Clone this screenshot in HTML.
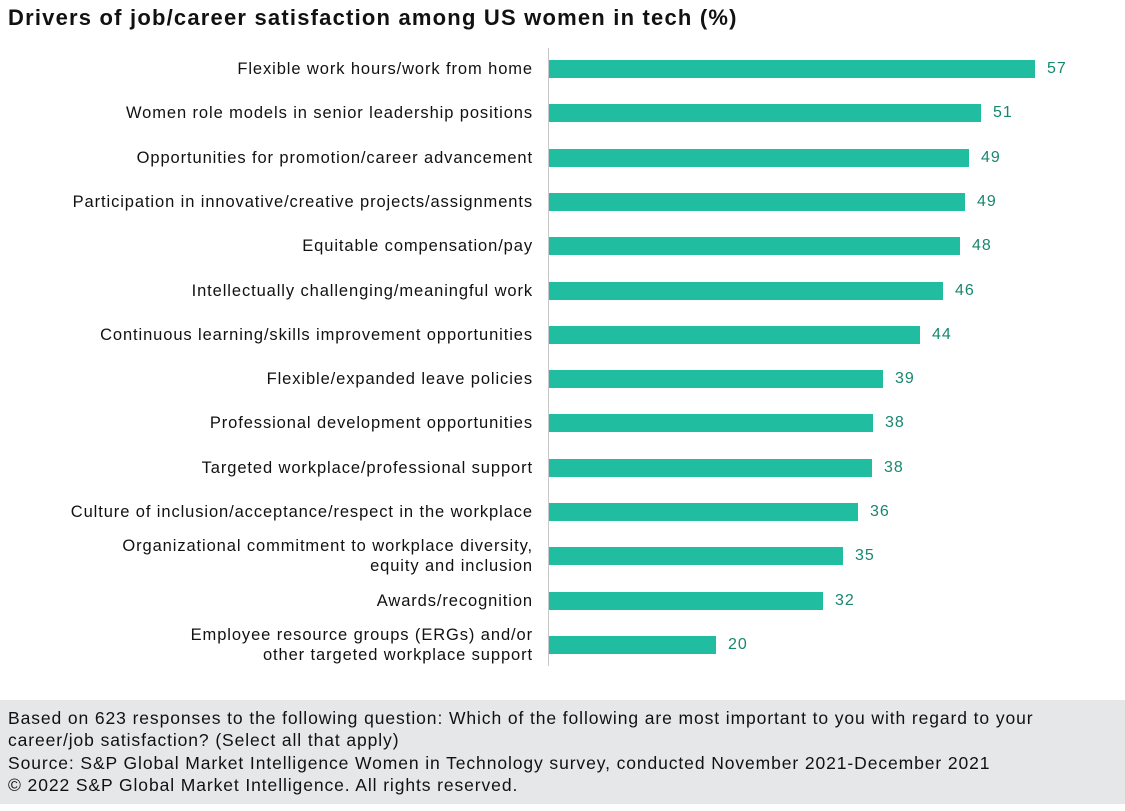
<!DOCTYPE html>
<html><head><meta charset="utf-8"><style>
body{margin:0;width:1125px;height:811px;background:#fff;font-family:"Liberation Sans",sans-serif;position:relative;overflow:hidden;color:#111}
.t{position:absolute;left:8px;top:5px;font-size:22px;font-weight:bold;letter-spacing:1.2px;white-space:nowrap}
.l{position:absolute;right:592px;font-size:16.5px;letter-spacing:0.9px;text-align:right;line-height:20px;white-space:nowrap}
.b{position:absolute;left:549px;height:18px;background:#20bda1}
.v{position:absolute;font-size:16px;letter-spacing:1px;color:#17876f}
.ax{position:absolute;left:548px;top:48px;width:1px;height:618px;background:#c8c8c8}
.f{position:absolute;left:0;top:700px;width:1125px;height:104px;background:#e6e7e8}
.f div{position:absolute;left:8px;top:7px;font-size:17.5px;letter-spacing:0.9px;line-height:22.3px;white-space:nowrap}
</style></head><body>
<div class="t">Drivers of job/career satisfaction among US women in tech (%)</div>
<div class="ax"></div>
<div id="c"></div>
<div class="f"><div>Based on 623 responses to the following question: Which of the following are most important to you with regard to your<br>career/job satisfaction? (Select all that apply)<br>Source: S&amp;P Global Market Intelligence Women in Technology survey, conducted November 2021-December 2021<br>© 2022 S&amp;P Global Market Intelligence. All rights reserved.</div></div>
<script>
var d=[["Flexible work hours/work from home",57,1035],["Women role models in senior leadership positions",51,981],["Opportunities for promotion/career advancement",49,969],["Participation in innovative/creative projects/assignments",49,965],["Equitable compensation/pay",48,960],["Intellectually challenging/meaningful work",46,943],["Continuous learning/skills improvement opportunities",44,920],["Flexible/expanded leave policies",39,883],["Professional development opportunities",38,873],["Targeted workplace/professional support",38,872],["Culture of inclusion/acceptance/respect in the workplace",36,858],["Organizational commitment to workplace diversity,<br>equity and inclusion",35,843],["Awards/recognition",32,823],["Employee resource groups (ERGs) and/or<br>other targeted workplace support",20,716]];
var h="";d.forEach(function(r,i){var y=69+i*44.3;var two=r[0].indexOf("<br>")>0;
h+='<div class="l" style="top:'+(y-(two?20:10))+'px">'+r[0]+'</div>';
h+='<div class="b" style="top:'+(y-9)+'px;width:'+(r[2]-549)+'px"></div>';
h+='<div class="v" style="top:'+(y-9)+'px;left:'+(r[2]+12)+'px">'+r[1]+'</div>';});
document.getElementById("c").innerHTML=h;
</script>
</body></html>
